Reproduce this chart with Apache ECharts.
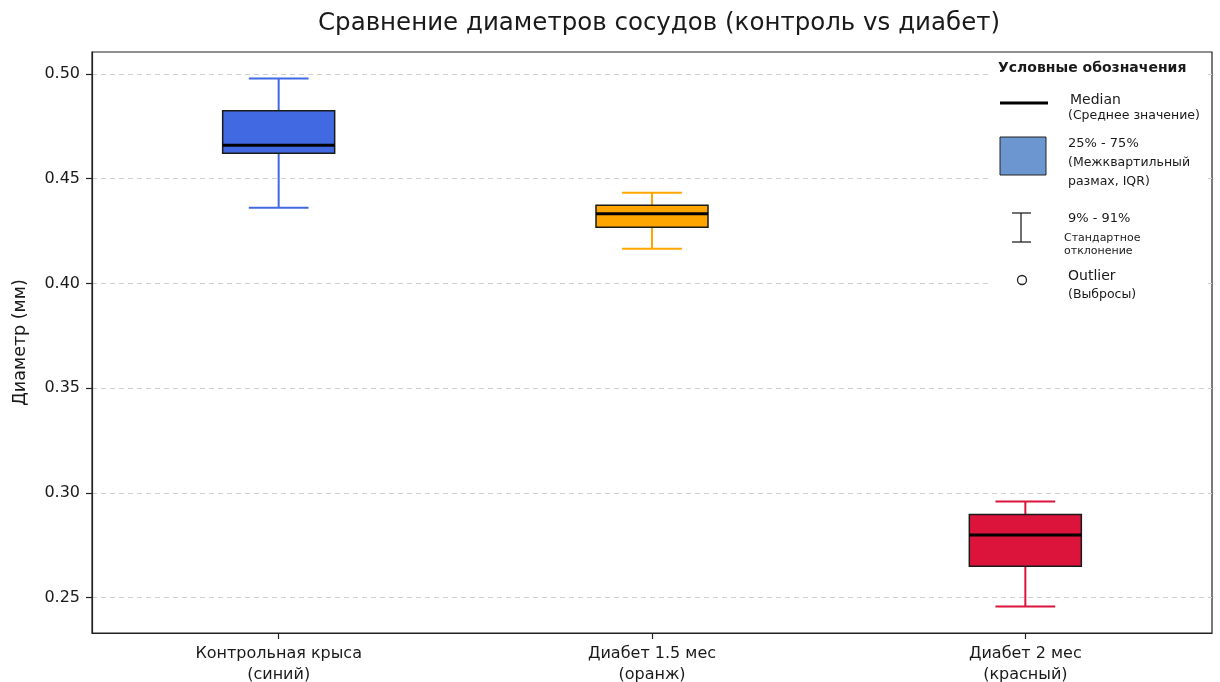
<!DOCTYPE html>
<html>
<head>
<meta charset="utf-8">
<script src="https://cdn.jsdelivr.net/npm/echarts@6/dist/echarts.min.js"></script>
<style>
  html, body { margin: 0; padding: 0; background: #fff; }
  #chart { width: 1220px; height: 682px; }
</style>
</head>
<body>
<div id="chart"></div>
<script>
// Vessel diameter groups
const categories = ['Контрольная крыса\n(синий)', 'Диабет 1.5 мес\n(оранж)', 'Диабет 2 мес\n(красный)'];
// Box statistics per group (mm)
const whiskerLow  = [0.4361, 0.4166, 0.2457];
const q1          = [0.4621, 0.4268, 0.2650];
const median      = [0.4660, 0.4333, 0.2799];
const q3          = [0.4824, 0.4373, 0.2897];
const whiskerHigh = [0.4979, 0.4433, 0.2959];
// Y axis tick labels
const yTicks = [0.25, 0.30, 0.35, 0.40, 0.45, 0.50];

const boxColors = ['#4169E1', '#FFA500', '#DC143C'];
const FONT = 'DejaVu Sans';

const seriesData = categories.map((c, i) => [i, whiskerLow[i], q1[i], median[i], q3[i], whiskerHigh[i]]);

function renderBox(params, api) {
  const idx = api.value(0);
  const color = boxColors[idx];
  const band = api.size([1, 0])[0];
  const boxW = band * 0.30;
  const capW = band * 0.16;
  const pLow = api.coord([idx, api.value(1)]);
  const pQ1 = api.coord([idx, api.value(2)]);
  const pMed = api.coord([idx, api.value(3)]);
  const pQ3 = api.coord([idx, api.value(4)]);
  const pHigh = api.coord([idx, api.value(5)]);
  const cx = pMed[0];
  const wStyle = { stroke: color, lineWidth: 2 };
  return {
    type: 'group',
    children: [
      { type: 'line', shape: { x1: cx, y1: pLow[1], x2: cx, y2: pQ1[1] }, style: wStyle },
      { type: 'line', shape: { x1: cx, y1: pQ3[1], x2: cx, y2: pHigh[1] }, style: wStyle },
      { type: 'line', shape: { x1: cx - capW / 2, y1: pLow[1], x2: cx + capW / 2, y2: pLow[1] }, style: wStyle },
      { type: 'line', shape: { x1: cx - capW / 2, y1: pHigh[1], x2: cx + capW / 2, y2: pHigh[1] }, style: wStyle },
      { type: 'rect', shape: { x: cx - boxW / 2, y: pQ3[1], width: boxW, height: pQ1[1] - pQ3[1] },
        style: { fill: color, stroke: '#1a1a1a', lineWidth: 1.5 } },
      { type: 'line', shape: { x1: cx - boxW / 2, y1: pMed[1], x2: cx + boxW / 2, y2: pMed[1] },
        style: { stroke: '#000', lineWidth: 3 } }
    ]
  };
}

// Legend panel drawn in the upper-right corner of the plot
const LX = 988, LY = 55;
const txt = (x, y, text, size, weight) => ({
  type: 'text', x: x, y: y,
  style: { text: text, fill: '#1a1a1a', font: (weight || 'normal') + ' ' + size + 'px "' + FONT + '"', textVerticalAlign: 'middle' }
});
const legendGraphic = [
  { type: 'rect', shape: { x: LX, y: LY, width: 218, height: 250 }, style: { fill: '#fff' } },
  txt(998, 68, 'Условные обозначения', 14, 'bold'),
  { type: 'line', shape: { x1: 1000, y1: 103, x2: 1048, y2: 103 }, style: { stroke: '#000', lineWidth: 3 } },
  txt(1070, 100, 'Median', 14),
  txt(1068, 116, '(Среднее значение)', 12.5),
  { type: 'rect', shape: { x: 1000, y: 137, width: 46, height: 38 }, style: { fill: '#6b96cf', stroke: '#222', lineWidth: 1 } },
  txt(1068, 144, '25% - 75%', 13),
  txt(1068, 163, '(Межквартильный', 12.5),
  txt(1068, 182, 'размах, IQR)', 12.5),
  { type: 'line', shape: { x1: 1021, y1: 213, x2: 1021, y2: 242 }, style: { stroke: '#222', lineWidth: 1.3 } },
  { type: 'line', shape: { x1: 1012, y1: 213, x2: 1031, y2: 213 }, style: { stroke: '#222', lineWidth: 1.3 } },
  { type: 'line', shape: { x1: 1012, y1: 242, x2: 1031, y2: 242 }, style: { stroke: '#222', lineWidth: 1.3 } },
  txt(1068, 219, '9% - 91%', 13),
  txt(1064, 238, 'Стандартное', 11),
  txt(1064, 251, 'отклонение', 11),
  { type: 'circle', shape: { cx: 1022, cy: 280, r: 4.5 }, style: { fill: '#fff', stroke: '#222', lineWidth: 1.3 } },
  txt(1068, 276, 'Outlier', 14),
  txt(1068, 295, '(Выбросы)', 12.5)
].map(g => Object.assign({ z: 10 }, g));

const chart = echarts.init(document.getElementById('chart'), null, { renderer: 'canvas' });
chart.setOption({
  animation: false,
  backgroundColor: '#fff',
  title: {
    text: 'Сравнение диаметров сосудов (контроль vs диабет)',
    left: 654, top: 6, textAlign: 'center',
    textStyle: { fontFamily: FONT, fontSize: 24.5, fontWeight: 'normal', color: '#1a1a1a' }
  },
  grid: { left: 92, right: 8, top: 52, bottom: 49, outerBoundsMode: 'none', show: true, borderColor: '#222', borderWidth: 1.2, backgroundColor: 'transparent' },
  xAxis: {
    type: 'category',
    data: categories,
    axisLine: { lineStyle: { color: '#222', width: 1.2 } },
    axisTick: { show: true, alignWithLabel: true, length: 6, lineStyle: { color: '#222', width: 1.2 } },
    axisLabel: { fontFamily: FONT, fontSize: 16, color: '#1a1a1a', margin: 10, lineHeight: 21 },
    splitLine: { show: false }
  },
  yAxis: {
    type: 'value',
    min: 0.2331, max: 0.5105,
    name: 'Диаметр (мм)',
    nameLocation: 'middle',
    nameGap: 63,
    nameTextStyle: { fontFamily: FONT, fontSize: 17.5, color: '#1a1a1a' },
    axisLine: { show: true, lineStyle: { color: '#222', width: 1.2 } },
    axisTick: { show: true, length: 6, customValues: yTicks, lineStyle: { color: '#222', width: 1.2 } },
    axisLabel: { customValues: yTicks, fontFamily: FONT, fontSize: 16, color: '#1a1a1a', margin: 12,
      formatter: v => v.toFixed(2) },
    splitLine: { show: true, lineStyle: { color: '#d0d0d0', type: [5, 4], width: 1 } }
  },
  graphic: legendGraphic,
  series: [{
    type: 'custom',
    renderItem: renderBox,
    encode: { x: 0, y: [1, 2, 3, 4, 5] },
    data: seriesData,
    z: 5
  }]
});
</script>
</body>
</html>
